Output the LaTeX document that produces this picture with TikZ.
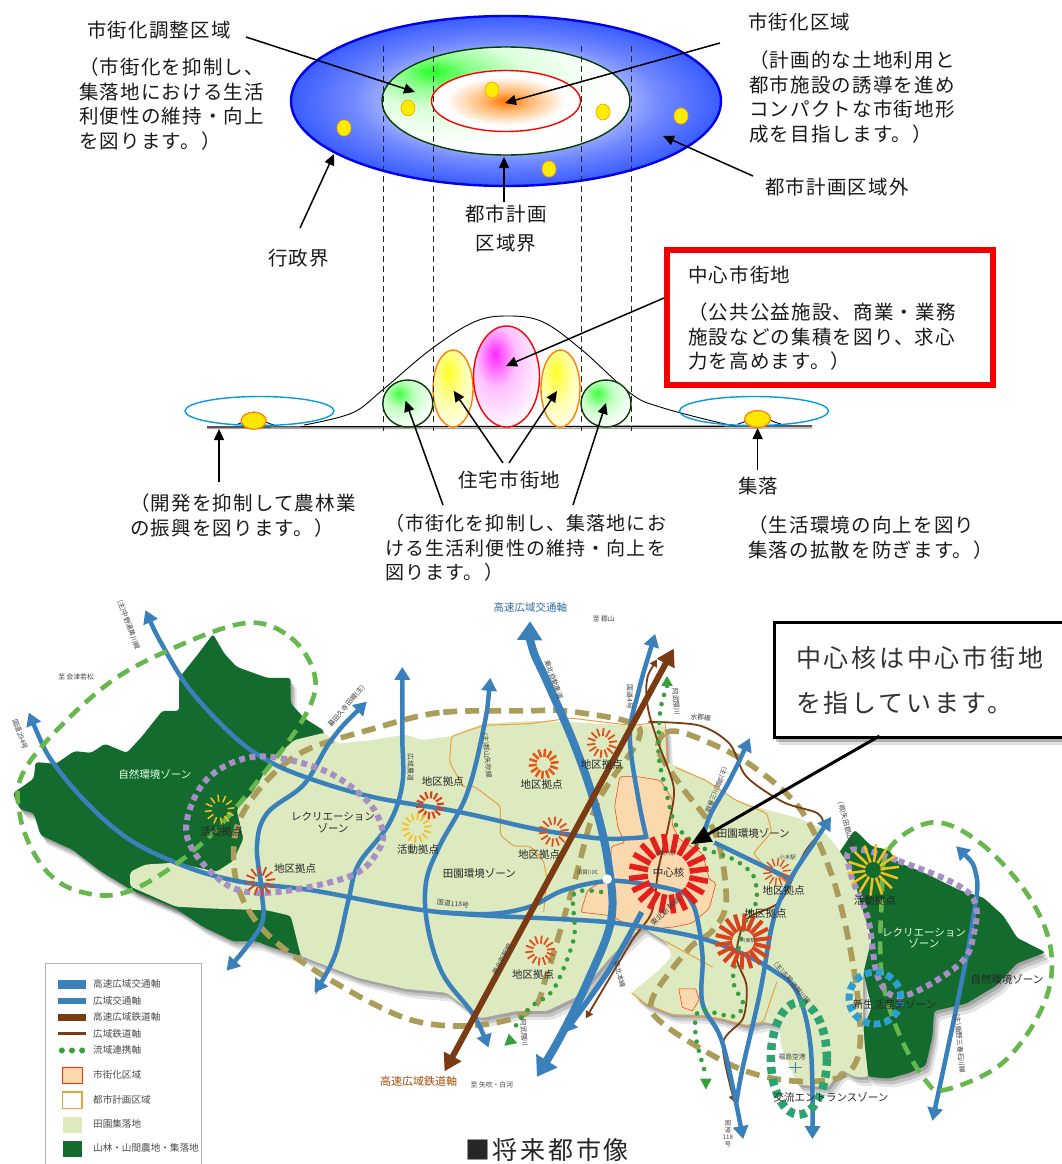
\documentclass[tikz,border=0pt]{standalone}
\usepackage{fontspec}
\setmainfont{Noto Sans CJK JP}
\newfontfamily\jpsp[LetterSpace=6]{Noto Sans CJK JP}
\newfontfamily\jpwide[LetterSpace=11]{Noto Sans CJK JP}
\usetikzlibrary{arrows.meta,shapes.geometric}
\definecolor{roadblue}{HTML}{3A80BB}
\definecolor{railbrown}{HTML}{7A3A12}
\definecolor{dotgreen}{HTML}{36A03C}
\definecolor{lightfield}{HTML}{DDE9BF}
\definecolor{darkforest}{HTML}{136B2E}
\definecolor{urbanfill}{HTML}{FBD9AE}
\definecolor{zonegreen}{HTML}{66B84E}
\definecolor{zonetan}{HTML}{AB9C5A}
\definecolor{zonepurple}{HTML}{A78FC6}
\definecolor{zoneteal}{HTML}{2E9FD0}
\definecolor{zonemint}{HTML}{2EA36F}
\definecolor{burstred}{HTML}{D8431F}
\definecolor{burstyel}{HTML}{F4C020}
\definecolor{corered}{HTML}{E4201C}
\definecolor{plancol}{HTML}{E8A040}
\definecolor{bluea}{HTML}{C4CCFF}
\definecolor{blueb}{HTML}{7088FF}
\definecolor{bluec}{HTML}{3A5CFF}
\pgfdeclareradialshading{bluefade}{\pgfpoint{0bp}{0bp}}{color(0bp)=(white);color(11bp)=(bluea);color(18bp)=(blueb);color(25bp)=(bluec);color(100bp)=(bluec)}
\pgfdeclareradialshading{greenfade}{\pgfpoint{-15bp}{14bp}}{color(0bp)=(green!85!white);color(7bp)=(green!45!white);color(16bp)=(green!14!white);color(30bp)=(white);color(100bp)=(white)}
\pgfdeclareradialshading{orangefade}{\pgfpoint{0bp}{0bp}}{color(0bp)=(orange!90!red);color(8bp)=(orange!55!white);color(20bp)=(white);color(100bp)=(white)}
\pgfdeclareradialshading{blobgreen}{\pgfpoint{-9bp}{11bp}}{color(0bp)=(green!75!white);color(14bp)=(green!25!white);color(32bp)=(white);color(100bp)=(white)}
\pgfdeclareradialshading{blobyellow}{\pgfpoint{-6bp}{11bp}}{color(0bp)=(yellow!85!white);color(20bp)=(yellow!30!white);color(40bp)=(white);color(100bp)=(white)}
\pgfdeclareradialshading{blobmagenta}{\pgfpoint{-9bp}{11bp}}{color(0bp)=(magenta!85!white);color(15bp)=(magenta!25!white);color(35bp)=(white);color(100bp)=(white)}
\newcommand{\mapburst}[7]{\begin{scope}[shift={(#1,#2)}]\foreach \ri in {1,...,#5}{\pgfmathsetmacro\raa{360*\ri/#5+7}\draw[color=#6,line width=#7pt] (\raa:#3pt) -- (\raa:#4pt);}\end{scope}}
\def\westforest{(38,555) (70,535) (100,515) (105,470) (165,475) (220,440) (270,445) (310,420) (375,445) (420,400) (480,330) (530,330) (530,240) (590,170) (630,120) (660,170) (700,210) (790,240) (860,240) (860,310) (900,350) (960,385) (900,500) (890,900) (890,1000) (800,975) (760,960) (690,960) (600,920) (520,870) (390,820) (300,770) (215,710) (120,670) (100,610) (60,600)}
\def\eastforest{(2473,730) (2528,655) (2578,700) (2628,710) (2658,745) (2728,770) (2838,820) (2908,840) (2968,890) (3008,950) (3093,990) (3008,1020) (2948,1080) (2858,1130) (2763,1150) (2758,1220) (2738,1300) (2688,1320) (2628,1335) (2568,1330) (2553,1200) (2578,1140) (2553,1040) (2578,960) (2543,850) (2518,760)}
\def\fieldarea{(385,770) (430,750) (520,745) (640,770) (690,740) (720,680) (700,600) (750,550) (800,470) (870,410) (960,390) (1000,420) (1100,410) (1200,395) (1250,410) (1330,400) (1430,365) (1568,358) (1668,360) (1868,370) (1968,370) (1973,470) (1998,480) (2088,520) (2178,575) (2268,600) (2368,625) (2428,650) (2473,700) (2518,760) (2543,850) (2578,950) (2553,1050) (2553,1180) (2558,1250) (2568,1330) (2528,1330) (2488,1310) (2448,1360) (2358,1350) (2308,1240) (2308,1190) (2258,1180) (2208,1190) (2128,1170) (2068,1160) (1988,1160) (1908,1130) (1868,1100) (1948,1040) (1988,1000) (1968,960) (1898,920) (1808,1000) (1708,1110) (1618,1150) (1530,1150) (1420,1170) (1320,1100) (1200,1090) (1060,1060) (890,1000) (860,890) (790,875) (620,870) (520,865) (385,810)}
\tikzset{
 roadtip/.tip={Triangle[length=13pt,width=15pt]},
 bigtip/.tip={Triangle[length=19pt,width=24pt]},
 railtip/.tip={Triangle[length=17pt,width=19pt]},
 smalltip/.tip={Triangle[length=7pt,width=8pt]},
 toptext/.style={font=\jpsp\fontsize{19.5}{24.8}\selectfont,inner sep=0pt,anchor=north west,align=left,text=black!90},
 blackarrow/.style={black,line width=1.5pt,-{Triangle[length=11pt,width=10pt]}},
 ydot/.style={ellipse,draw=orange!70!yellow,line width=.7pt,fill=yellow!95!orange,minimum width=14pt,minimum height=16pt,inner sep=0pt},
 oval/.style={ellipse,inner sep=0pt,line width=1.4pt},
 guide/.style={black!85,line width=.9pt,dash pattern=on 6pt off 4pt},
 road/.style={roadblue,line width=4.5pt},
 rail/.style={railbrown,line width=1.8pt},
 dotline/.style={dotgreen,line width=4.6pt,line cap=round,dash pattern=on 0pt off 9.5pt},
 zg/.style={zonegreen,line width=4.6pt,dash pattern=on 13pt off 8pt},
 ztan/.style={zonetan,line width=5.6pt,dash pattern=on 14pt off 8pt},
 zpur/.style={zonepurple,line width=6pt,dash pattern=on 6pt off 4.5pt},
 maptext/.style={font=\fontsize{10.5}{11}\selectfont,inner sep=0pt,text=black!85},
 wee/.style={font=\fontsize{6.8}{7.4}\selectfont,inner sep=0pt,text=black!75},
 legtext/.style={font=\fontsize{9.6}{10}\selectfont,inner sep=0pt,anchor=west,text=black!70},
}
\begin{document}
\begin{tikzpicture}[x=1pt,y=-1pt]
\useasboundingbox (0,0) rectangle (1062,1164);
\fill[white] (0,0) rectangle (1062,1164);
% ---------- upper plan ----------
\node[oval,draw=blue!92!black,line width=2.4pt,shading=bluefade,minimum width=430pt,minimum height=170pt] (outer) at (506,101) {};
\node[oval,draw=black!75!green,shading=greenfade,minimum width=248pt,minimum height=108pt] (mid) at (506,101) {};
\node[oval,draw=red,shading=orangefade,minimum width=149pt,minimum height=61pt] (inner) at (506,101) {};
\node[ydot] (dot1) at (344,128) {};
\node[ydot] (dot2) at (408,108) {};
\node[ydot] (dot3) at (492,90) {};
\node[ydot] (dot4) at (603,112) {};
\node[ydot] (dot5) at (549,169) {};
\node[ydot] (dot6) at (681,116) {};
% ---------- section profile ----------
\draw[black!35,line width=1.4pt] (207,428.5) -- (812,428);
\draw[black,line width=.9pt] plot[smooth,tension=.6] coordinates {(304,425) (352,413) (382.5,390) (430,350) (474,322) (508,316) (543,322) (582,350) (630,393) (660,407) (725,424) (738,425)};
\draw[black,line width=.9pt] plot[smooth,tension=.6] coordinates {(235,425) (245,421) (254,412) (264,421) (274,425)};
\draw[black,line width=.9pt] plot[smooth,tension=.6] coordinates {(738,424) (748,420) (758,411) (770,420) (781,424)};
\draw[black,line width=1.2pt] (207,427) -- (812,426);
\node[oval,draw=cyan!85!blue,minimum width=149pt,minimum height=29pt] (skyl) at (259.5,411) {};
\node[oval,draw=cyan!85!blue,minimum width=149pt,minimum height=29pt] (skyr) at (754,411) {};
\node[ellipse,draw=orange,line width=1.2pt,fill=yellow!90!orange,minimum width=25pt,minimum height=17pt,inner sep=0pt] (vill) at (253.7,420.7) {};
\node[ellipse,draw=orange,line width=1.2pt,fill=yellow!90!orange,minimum width=26pt,minimum height=17pt,inner sep=0pt] (vilr) at (757.6,419) {};
\node[oval,draw=black!75!green,shading=blobgreen,minimum width=50pt,minimum height=47pt] (gl) at (407.8,403.5) {};
\node[oval,draw=black!75!green,shading=blobgreen,minimum width=50pt,minimum height=47pt] (gr) at (606,403.5) {};
\node[oval,draw=orange,shading=blobyellow,minimum width=40pt,minimum height=77pt] (yl) at (453,388.5) {};
\node[oval,draw=orange,shading=blobyellow,minimum width=39pt,minimum height=77pt] (yr) at (560.5,388.5) {};
\node[oval,draw=red,shading=blobmagenta,minimum width=66pt,minimum height=101pt] (cen) at (506.5,376.5) {};
\foreach \gx/\gn in {383/a,433/b,581/c,631/d}{
 \coordinate (gt\gn) at (\gx,46);
 \coordinate (gb\gn) at (\gx,431);
 \draw[guide] (gt\gn) -- (gb\gn);
}
% ---------- upper labels ----------
\node[toptext] (t1) at (87,20.5) {市街化調整区域};
\node[toptext] (t2) at (79,57.5) {（市街化を抑制し、\\集落地における生活\\利便性の維持・向上\\を図ります。）};
\node[toptext] (t3) at (748,12.5) {市街化区域};
\node[toptext] (t4) at (749,50.5) {（計画的な土地利用と\\都市施設の誘導を進め\\コンパクトな市街地形\\成を目指します。）};
\node[toptext] (t5) at (765,177.5) {都市計画区域外};
\node[toptext,align=center] (t6) at (465,204.5) {都市計画\\[5pt]区域界};
\node[toptext] (t7) at (268,248.5) {行政界};
\node[draw=red!95!black,line width=6pt,minimum width=326pt,minimum height=135pt,inner sep=0pt] (redbox) at (830,317.5) {};
\node[toptext] (t8) at (688,265.5) {中心市街地};
\node[toptext] (t9) at (688,302.5) {（公共公益施設、商業・業務\\施設などの集積を図り、求心\\力を高めます。）};
\node[toptext] (t10) at (458,470.5) {住宅市街地};
\node[toptext] (t11) at (130,493.5) {（開発を抑制して農林業\\の振興を図ります。）};
\node[toptext] (t12) at (738,476.5) {集落};
\node[toptext,font=\jpsp\fontsize{19}{24.2}\selectfont] (t13) at (385,514.5) {（市街化を抑制し、集落地にお\\ける生活利便性の維持・向上を\\図ります。）};
\node[toptext] (t14) at (748,515.5) {（生活環境の向上を図り\\集落の拡散を防ぎます。）};
% ---------- upper arrows ----------
\coordinate (a1s) at (246,37); \coordinate (a1e) at (415,92);
\coordinate (a2s) at (720,43); \coordinate (a2e) at (505,103);
\coordinate (a3s) at (753,176); \coordinate (a3e) at (663,136);
\coordinate (a4s) at (300,228); \coordinate (a4e) at (334,154);
\coordinate (a5s) at (504,202); \coordinate (a5e) at (504,157);
\coordinate (a6s) at (664,298); \coordinate (a6e) at (506,366);
\coordinate (a7s) at (219,482); \coordinate (a7e) at (219,429);
\coordinate (a8s) at (757.6,470); \coordinate (a8e) at (757.6,428);
\coordinate (a9s) at (503,463); \coordinate (a9e) at (453.6,390.7);
\coordinate (a10s) at (509,463); \coordinate (a10e) at (557,391);
\coordinate (a11s) at (443,505); \coordinate (a11e) at (405.5,400.7);
\coordinate (a12s) at (573,505); \coordinate (a12e) at (606,403);
\foreach \ar in {1,...,12}{\draw[blackarrow] (a\ar s) -- (a\ar e);}
% ---------- map ----------
\begin{scope}[x=0.33807pt,y=-0.36603pt,shift={(0pt,-590pt)}]
 \foreach \sx/\sy/\so in {2/-3/.16,4/-6/.14,6/-9/.10}{
  \fill[black,opacity=\so,shift={(\sx pt,\sy pt)},rounded corners=3pt] plot coordinates {\westforest} -- cycle;
  \fill[black,opacity=\so,shift={(\sx pt,\sy pt)},rounded corners=3pt] plot coordinates {\eastforest} -- cycle;
  \fill[black,opacity=\so,shift={(\sx pt,\sy pt)},rounded corners=3pt] plot coordinates {\fieldarea} -- cycle;
 }
 \fill[darkforest,rounded corners=3pt] plot coordinates {\westforest} -- cycle;
 \fill[darkforest,rounded corners=3pt] plot coordinates {\eastforest} -- cycle;
 \fill[lightfield,rounded corners=3pt] plot coordinates {\fieldarea} -- cycle;
 \filldraw[fill=urbanfill,draw=red!60!orange,line width=.5pt,rounded corners=2pt] (1818,590) -- (1833,510) -- (1888,510) -- (1953,520) -- (1988,570) -- (1988,640) -- (2008,680) -- (2078,720) -- (2098,790) -- (2118,800) -- (2098,870) -- (2048,910) -- (1998,920) -- (1888,930) -- (1808,890) -- (1718,880) -- (1738,820) -- (1808,780) -- (1808,700) -- (1848,690) -- (1828,650) -- cycle;
 \filldraw[fill=urbanfill,draw=red!60!orange,line width=.5pt] (2008,1090) -- (2058,1090) -- (2068,1120) -- (2048,1150) -- (2018,1140) -- cycle;
 % planning-area boundaries
 \draw[plancol,line width=1pt,rounded corners=3pt] (1568,365) -- (1430,370) -- (1335,400) -- (1330,470) -- (1370,540) -- (1400,535) -- (1480,590) -- (1480,670) -- (1520,700) -- (1568,700) -- (1608,740) -- (1618,790) -- (1608,880);
 \draw[plancol,line width=1pt,rounded corners=3pt] (1568,365) -- (1688,350) -- (1868,370) -- (1968,360) -- (1973,470);
 \draw[plancol,line width=1pt,rounded corners=3pt] (1998,485) -- (2088,520) -- (2178,575) -- (2268,610) -- (2283,660) -- (2228,720) -- (2268,760) -- (2328,800);
 \draw[plancol,line width=1pt,rounded corners=3pt] (1868,1100) -- (1908,1130) -- (1988,1160) -- (2128,1170) -- (2208,1190) -- (2258,1180) -- (2298,1070);
 \draw[plancol,line width=1pt] (1968,960) -- (2048,1000) -- (2108,1030);
 % tan zones
 \draw[ztan] plot[smooth cycle,tension=.55] coordinates {(1568,330) (1300,335) (1100,380) (900,440) (780,530) (700,650) (700,800) (780,930) (950,1050) (1200,1170) (1400,1190) (1568,1150) (1618,1050) (1698,800) (1768,580) (1888,410) (1858,360) (1668,330)};
 \draw[ztan] plot[smooth cycle,tension=.55] coordinates {(1948,440) (1968,390) (2038,395) (2208,470) (2368,600) (2468,800) (2528,1050) (2543,1250) (2488,1330) (2328,1340) (2168,1300) (1968,1190) (1928,1120) (2038,980) (2108,930) (2148,850) (2118,670) (2018,540)};
 % railways
 \draw[rail,-{smalltip}] plot[smooth,tension=.5] coordinates {(1918,360) (2068,370) (2158,420) (2208,510) (2318,580) (2418,610) (2433,650) (2378,720) (2308,850) (2208,900) (2178,1000) (2208,1080) (2198,1170) (2138,1240) (2173,1400)};
 \draw[rail,{smalltip}-{smalltip}] plot[smooth,tension=.5] coordinates {(1943,190) (1913,250) (1918,330) (1948,420) (1993,540) (1978,640) (1948,760) (1928,880) (1868,960) (1733,1170)};
 % roads
 \draw[road,{roadtip}-{roadtip}] plot[smooth,tension=.6] coordinates {(85,335) (180,500) (350,660) (520,745) (700,795) (920,820) (1150,860) (1300,880) (1450,890) (1568,895) (1768,905) (1898,920) (2068,950) (2188,990) (2288,1040) (2358,1100) (2398,1250) (2403,1500)};
 \draw[road,{roadtip}-] plot[smooth,tension=.6] coordinates {(430,55) (480,150) (560,270) (680,390) (780,460) (900,510) (1100,565) (1350,605) (1568,650) (1698,670) (1800,680) (1913,675)};
 \draw[road,{roadtip}-{roadtip}] plot[smooth,tension=.6] coordinates {(1085,305) (980,410) (900,530) (790,610) (760,700) (775,830) (770,920) (670,1040)};
 \draw[road,{roadtip}-{roadtip}] plot[smooth,tension=.6] coordinates {(1190,210) (1190,400) (1190,530) (1150,640) (1060,750) (1030,850) (990,1000) (930,1100)};
 \draw[road,{roadtip}-{roadtip}] plot[smooth,tension=.6] coordinates {(1450,240) (1430,380) (1380,560) (1300,700) (1260,800) (1265,920) (1310,1050) (1400,1160) (1445,1250)};
 \draw[road,{roadtip}-] plot[smooth,tension=.6] coordinates {(1938,120) (1888,280) (1863,400) (1888,570) (1913,680)};
 \draw[road,-{roadtip}] plot[smooth,tension=.6] coordinates {(2028,830) (2058,880) (2078,1000) (2078,1130) (2138,1240) (2198,1500)};
 \draw[road] plot[smooth,tension=.6] coordinates {(1300,880) (1450,885) (1568,865) (1668,820) (1798,795) (1918,805) (1998,820) (2028,830)};
 \draw[road,{roadtip}-] plot[smooth,tension=.6] coordinates {(2218,405) (2158,520) (2098,620) (2078,690)};
 \draw[road] (2113,690) -- (2338,790);
 \draw[road,{roadtip}-] plot[smooth,tension=.6] coordinates {(2458,620) (2408,690) (2338,790) (2288,900) (2248,1100) (2198,1300) (2178,1400)};
 \draw[road,{roadtip}-{roadtip}] plot[smooth,tension=.6] coordinates {(2828,700) (2888,780) (2878,900) (2838,1100) (2758,1450)};
 \draw[road,line width=8pt,{bigtip}-{bigtip}] plot[smooth,tension=.6] coordinates {(1568,85) (1575,160) (1618,250) (1698,420) (1758,580) (1798,740) (1808,900) (1738,1070) (1658,1220) (1588,1330)};
 \draw[road,line width=5.5pt,-{roadtip}] plot[smooth,tension=.6] coordinates {(1898,880) (1800,1040) (1668,1210)};
 \fill[white] (1796,790) circle[radius=4.8pt];
 % high-speed rail
 \draw[railbrown,line width=6pt,{railtip}-{railtip}] (1315,1315) -- (1993,160);
 % river axis
 \draw[dotline] plot[smooth,tension=.5] coordinates {(1973,262) (1953,330) (1948,450) (1968,540) (1998,640) (2068,700) (2168,735) (2228,780) (2238,850) (2208,900) (2168,1060) (2198,1130) (2168,1165) (2068,1150) (2058,1220) (2088,1325)};
 \draw[dotline] plot[smooth,tension=.5] coordinates {(1778,825) (1698,830) (1698,950) (1638,1090) (1568,1140) (1530,1185) (1510,1210)};
 \fill[dotgreen] (1973,235) -- (1990,262) -- (1956,262) -- cycle;
 \fill[dotgreen] (2088,1365) -- (2071,1335) -- (2105,1335) -- cycle;
 \fill[dotgreen] (1492,1245) -- (1505,1212) -- (1530,1238) -- cycle;
 % zones
 \draw[zg] plot[smooth cycle,tension=.6] coordinates {(730,90) (860,130) (930,230) (910,330) (790,490) (600,690) (390,820) (240,825) (130,760) (60,620) (80,480) (300,270) (510,160)};
 \draw[zg] plot[smooth cycle,tension=.6] coordinates {(2758,635) (2898,690) (3038,830) (3108,980) (3088,1130) (2968,1290) (2798,1365) (2738,1340) (2658,1210) (2608,1050) (2608,850) (2628,710)};
 \draw[zpur] plot[smooth cycle,tension=.6] coordinates {(760,455) (950,490) (1080,570) (1130,650) (1120,710) (1040,780) (820,825) (680,810) (570,710) (555,620) (620,510)};
 \draw[zpur] plot[smooth cycle,tension=.6] coordinates {(2518,710) (2658,740) (2868,830) (2878,950) (2828,1030) (2668,1110) (2598,1060) (2568,900) (2518,780)};
 \draw[zoneteal,line width=7pt,dash pattern=on 7pt off 4pt] (2588,1115) circle[radius=26pt];
 \draw[zonemint,line width=8.5pt,dash pattern=on 7pt off 5pt] (2363,1280) ellipse[x radius=28pt,y radius=56pt];
 % bursts
 \mapburst{650}{600}{8}{15}{12}{burstyel}{1.5}
 \mapburst{1272}{588}{7}{14}{14}{burstred}{2.2}
 \mapburst{1232}{650}{8}{15}{14}{burstyel}{1.7}
 \mapburst{770}{795}{6}{15}{12}{burstred}{1.8}
 \mapburst{1781}{418}{7}{15}{14}{burstred!80!orange}{1.8}
 \mapburst{1608}{475}{7}{15}{14}{burstred!70!orange}{2.5}
 \mapburst{1638}{660}{7}{15}{14}{burstred!80!orange}{1.8}
 \mapburst{1598}{985}{7}{15}{14}{burstred!80!orange}{1.8}
 \mapburst{1978}{775}{21}{40}{20}{corered}{5.5}
 \mapburst{2298}{770}{6}{14}{14}{burstred!80!orange}{1.4}
 \mapburst{2198}{960}{11}{28}{18}{burstred}{4}
 \mapburst{2583}{765}{8}{26}{14}{burstyel}{2.5}
 % airplane
 \draw[roadblue,line width=1.4pt] (2353,1290) -- (2353,1320);
 \draw[roadblue,line width=1.4pt] (2333,1305) -- (2373,1305);
 % map labels
 \node[maptext,text=white!90!green] (z1) at (458,505) {自然環境ゾーン};
 \node[maptext] (z2) at (655,660) {活動拠点};
 \node[maptext,align=center,font=\fontsize{10.5}{11.5}\selectfont] (z3) at (985,635) {レクリエーション\\ゾーン};
 \node[maptext] (z4) at (1310,523) {地区拠点};
 \node[maptext] (z5) at (1237,710) {活動拠点};
 \node[maptext] (z6) at (873,760) {地区拠点};
 \node[maptext] (z7) at (1418,775) {田園環境ゾーン};
 \node[maptext] (z8) at (1577,1050) {地区拠点};
 \node[maptext] (z9) at (1602,532) {地区拠点};
 \node[maptext] (z10) at (1595,722) {地区拠点};
 \node[maptext] (z11) at (1780,478) {地区拠点};
 \node[maptext] (z12) at (2228,665) {田園環境ゾーン};
 \node[maptext] (z13) at (2318,822) {地区拠点};
 \node[maptext] (z14) at (2265,885) {地区拠点};
 \node[maptext] (z15) at (1978,772) {中心核};
 \node[maptext] (z16) at (2588,847) {活動拠点};
 \node[maptext,align=center,text=white!90!green] (z17) at (2733,952) {レクリエーション\\ゾーン};
 \node[maptext] (z18) at (2978,1065) {自然環境ゾーン};
 \node[maptext] (z19) at (2646,1132) {新生活産業ゾーン};
 \node[maptext] (z20) at (2458,1385) {交流エントランスゾーン};
 \node[maptext,text=railbrown!70!orange,font=\fontsize{11}{12}\selectfont] (z21) at (1238,1343) {高速広域鉄道軸};
 \node[maptext,text=roadblue!85!black,font=\fontsize{10.5}{12}\selectfont] (z22) at (1569,48) {高速広域交通軸};
 \node[wee] (w1) at (225,238) {至 会津若松};
 \node[wee,rotate=-70] (w2) at (380,95) {(主)中野湯黄川線};
 \node[wee,rotate=-70] (w3) at (60,395) {国道294号};
 \node[wee,rotate=50] (w4) at (1025,318) {幕田久寺田線(主)};
 \node[wee,rotate=-90] (w5) at (1215,485) {広域農道};
 \node[wee,rotate=-85] (w6) at (1440,452) {(主)郡山矢吹線};
 \node[wee,rotate=-5] (w7) at (1340,857) {国道118号};
 \node[wee,rotate=62] (w8) at (1485,1010) {東北新幹線};
 \node[wee,rotate=-85] (w9) at (1550,1210) {阿武隈川};
 \node[wee] (w10) at (1455,1351) {至 矢吹・白河};
 \node[wee] (w11) at (1786,80) {至 郡山};
 \node[wee,rotate=-70] (w12) at (1638,245) {東北自動車道};
 \node[wee,rotate=-90] (w13) at (1863,292) {国道4号};
 \node[wee,rotate=-85] (w14) at (2000,305) {阿武隈川};
 \node[wee,rotate=-5] (w15) at (2073,348) {水郡線};
 \node[wee,rotate=-112,font=\fontsize{6.3}{7}\selectfont] (w16) at (2118,545) {(主)須賀川三春線};
 \node[wee,rotate=-75] (w17) at (2503,640) {(県)矢田郡山線};
 \node[wee,font=\fontsize{5.5}{6}\selectfont] (w18) at (2330,730) {小木駅};
 \node[wee,font=\fontsize{5.5}{6}\selectfont] (w19) at (1738,772) {須賀川IC};
 \node[wee,font=\fontsize{5}{6}\selectfont] (w20) at (1968,720) {須賀川駅};
 \node[wee,font=\fontsize{5}{6}\selectfont] (w21) at (2213,958) {川東駅};
 \node[wee,rotate=42,font=\fontsize{7.5}{8}\selectfont] (w22) at (1968,878) {東北新幹線};
 \node[wee,rotate=-75] (w23) at (1833,1050) {東北本線};
 \node[wee,rotate=-50] (w24) at (2343,1075) {(主)古殿須賀川線};
 \node[wee,rotate=-85] (w25) at (2838,1240) {(主)飯野三春石川線};
 \node[wee] (w26) at (2343,1275) {福島空港};
 \node[wee,align=center,font=\fontsize{6.2}{7}\selectfont] (w27) at (2153,1485) {国\\道\\118\\号};
 % legend
 \filldraw[fill=white,draw=black!30,line width=.7pt] (135,1568) -- (135,1020) -- (597,1020) -- (597,1568);
 \fill[roadblue] (172,1065) rectangle (255,1090);
 \fill[roadblue] (172,1115) rectangle (255,1130);
 \fill[railbrown] (172,1158) rectangle (255,1177);
 \fill[railbrown] (172,1208) rectangle (255,1217);
 \foreach \ld in {183,213,243}{\fill[dotgreen] (\ld,1258) circle[radius=3pt];}
 \filldraw[fill=urbanfill,draw=red!65!orange,line width=.8pt] (185,1303) rectangle (243,1348);
 \draw[plancol,line width=1.6pt] (185,1372) rectangle (243,1416);
 \fill[lightfield] (185,1440) rectangle (243,1483);
 \fill[darkforest] (185,1505) rectangle (243,1550);
 \node[legtext] (l1) at (275,1077) {高速広域交通軸};
 \node[legtext] (l2) at (275,1122) {広域交通軸};
 \node[legtext] (l3) at (275,1167) {高速広域鉄道軸};
 \node[legtext] (l4) at (275,1212) {広域鉄道軸};
 \node[legtext] (l5) at (275,1257) {流域連携軸};
 \node[legtext] (l6) at (275,1325) {市街化区域};
 \node[legtext] (l7) at (275,1392) {都市計画区域};
 \node[legtext] (l8) at (275,1459) {田園集落地};
 \node[legtext] (l9) at (275,1525) {山林・山間農地・集落地};
\end{scope}
% ---------- callout ----------
\fill[black,opacity=.22] (776,627) rectangle (1070,742);
\fill[black,opacity=.12] (779,630) rectangle (1070,745);
\node[draw=black,line width=3.2pt,fill=white,minimum width=300pt,minimum height=115pt,inner sep=0pt,anchor=north west] (callout) at (772.6,621) {};
\node[inner sep=0pt,anchor=north west,align=left,text=black!80,font=\jpwide\fontsize{25}{45}\selectfont] (ctext) at (796,646) {中心核は中心市街地\\を指しています。};
\coordinate (calls) at (879.5,736);
\coordinate (calle) at (691,844);
\draw[black,line width=3pt,-{Triangle[length=20pt,width=17pt]}] (calls) -- (calle);
\node[font=\jpwide\fontsize{25}{26}\selectfont,inner sep=0pt,text=black!85,anchor=west] (title) at (465,1150) {■将来都市像};
\end{tikzpicture}
\end{document}
